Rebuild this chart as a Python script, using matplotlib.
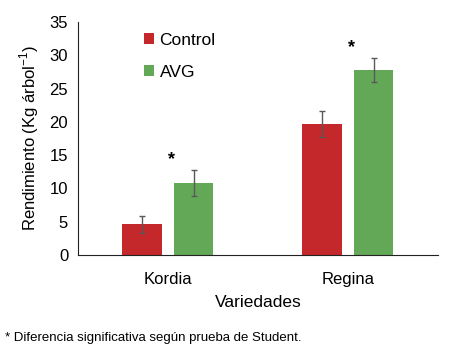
import numpy as np
import matplotlib.pyplot as plt

plt.rcParams['font.family'] = ['Liberation Sans', 'DejaVu Sans']
plt.rcParams['mathtext.fontset'] = 'custom'
plt.rcParams['mathtext.rm'] = 'Liberation Sans'

varieties = ['Kordia', 'Regina']
control = [4.6, 19.7]
control_err = [1.3, 2.0]
avg = [10.8, 27.8]
avg_err = [1.9, 1.8]
significant = [True, True]

red = '#C5282A'
green = '#63A857'

fig = plt.figure(figsize=(4.5, 3.57), dpi=100)
ax = fig.add_axes([0.173, 0.286, 0.8, 0.652])

x = np.arange(len(varieties))
w = 0.22
off = 0.143
ax.bar(x - off, control, w, color=red, label='Control',
       yerr=control_err, ecolor='#595959', capsize=2.5, error_kw={'elinewidth': 1})
ax.bar(x + off, avg, w, color=green, label='AVG',
       yerr=avg_err, ecolor='#595959', capsize=2.5, error_kw={'elinewidth': 1})

# asteriscos de significancia
for i, sig in enumerate(significant):
    if sig:
        ax.text(x[i] + 0.02, avg[i] + avg_err[i] + 0.3, '*', ha='center', va='bottom',
                fontsize=13, fontweight='bold', color='black')

ax.set_xlim(-0.5, 1.5)
ax.set_ylim(0, 35)
ax.set_yticks(range(0, 36, 5))
ax.set_xticks(x)
ax.set_xticklabels(varieties)
ax.tick_params(axis='y', length=0, labelsize=12, pad=7)
ax.tick_params(axis='x', length=0, labelsize=12, pad=12)
for s in ['top', 'right']:
    ax.spines[s].set_visible(False)
ax.spines['left'].set_color('#222222')
ax.spines['bottom'].set_color('#222222')
ax.set_xlabel('Variedades', fontsize=12.5, labelpad=6)
ax.set_ylabel(r'Rendimiento (Kg árbol$^{-1}$)', fontsize=12, labelpad=6)

ax.legend(loc='upper left', bbox_to_anchor=(0.14, 1.02), frameon=False, fontsize=12.5,
          handlelength=0.6, handleheight=0.6, handletextpad=0.3, labelspacing=0.95)

fig.text(0.012, 0.045, '* Diferencia significativa según prueba de Student.', fontsize=9.5)

fig.savefig('out.png', dpi=100)
